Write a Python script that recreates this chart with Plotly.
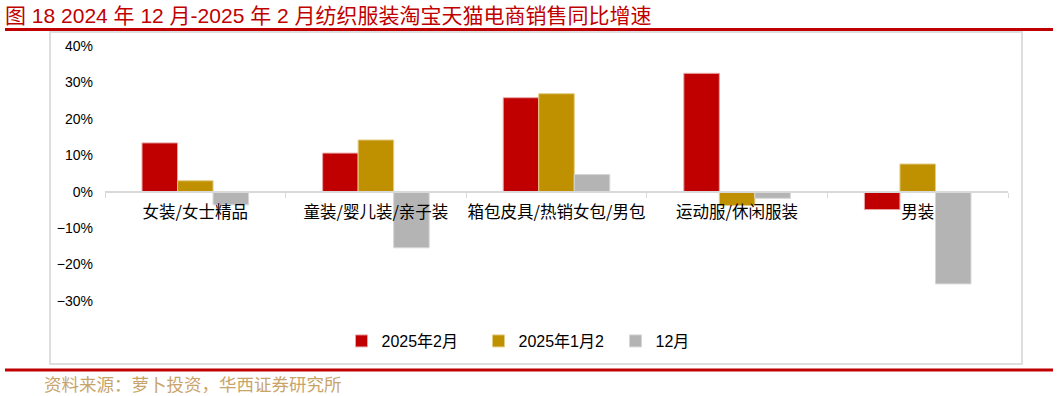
import plotly.graph_objects as go

categories = ["女装/女士精品", "童装/婴儿装/亲子装", "箱包皮具/热销女包/男包", "运动服/休闲服装", "男装"]
feb_2025 = [13.4, 10.6, 25.8, 32.5, -4.9]
jan_2025 = [3.0, 14.2, 26.9, -3.8, 7.6]
dec_2024 = [-3.6, -15.4, 4.7, -1.8, -25.3]
series_names = ["2025年2月", "2025年1月2", "12月"]
y_ticks = [-30, -20, -10, 0, 10, 20, 30, 40]
y_tick_text = [("\u2212" if v < 0 else "") + f"{abs(v)}%" for v in y_ticks]
y_range = [-30, 40]

W, H = 1059, 396
ML, MR, MT, MB = 105, 51, 46, 95
PW, PH = W - ML - MR, H - MT - MB


def px(x):
    return (x - ML) / PW


def py(y):
    return (H - MB - y) / PH


colors = ["#c00000", "#bf9000", "#b4b4b4"]
edge = ["#e9a5a5", "#e3cc85", "#d6d6d6"]
cjk = "Noto Sans CJK SC"
latin = "Liberation Sans, Arial, Noto Sans CJK SC"

fig = go.Figure()
for name, vals, c, e in zip(series_names, [feb_2025, jan_2025, dec_2024], colors, edge):
    fig.add_trace(go.Bar(x=categories, y=vals, name=name, marker=dict(color=c, line=dict(color=e, width=1))))

fig.update_layout(
    width=W, height=H,
    margin=dict(l=ML, r=MR, t=MT, b=MB),
    paper_bgcolor="white", plot_bgcolor="white",
    barmode="group", bargap=0.41, bargroupgap=0,
    showlegend=True,
    legend=dict(orientation="h", x=px(547), xanchor="center", y=py(341), yanchor="middle",
                font=dict(family=latin, size=16, color="#000"), entrywidth=92, itemwidth=30,
                traceorder="normal"),
    title=dict(text="图 18 2024 年 12 月-2025 年 2 月纺织服装淘宝天猫电商销售同比增速",
               xref="container", yref="container", x=5 / W, y=1 - 16 / H,
               xanchor="left", yanchor="middle",
               font=dict(family=latin, size=21, color="#c00000")),
    xaxis=dict(type="category", anchor="free", position=(0 - y_range[0]) / (y_range[1] - y_range[0]),
               showline=True, linecolor="#d9d9d9", linewidth=2,
               ticks="outside", tickson="boundaries", ticklen=5, tickcolor="#d9d9d9", tickwidth=1,
               ticklabelstandoff=5, tickangle=0, automargin=False,
               tickfont=dict(family=cjk, size=16.5, color="#000"), showgrid=False),
    yaxis=dict(range=y_range, tickmode="array", tickvals=y_ticks, ticktext=y_tick_text,
               showgrid=False, zeroline=False, automargin=False,
               showline=False, ticks="", ticklabelstandoff=11,
               tickfont=dict(family=latin, size=14, color="#000")),
    shapes=[
        dict(type="rect", xref="paper", yref="paper", x0=px(50), x1=px(1022), y0=py(364), y1=py(32),
             line=dict(color="#dedede", width=2), layer="below"),
        dict(type="line", xref="paper", yref="paper", x0=px(5), x1=px(1053), y0=py(29.5), y1=py(29.5),
             line=dict(color="#c00000", width=3)),
        dict(type="line", xref="paper", yref="paper", x0=px(5), x1=px(1053), y0=py(370), y1=py(370),
             line=dict(color="#c00000", width=3)),
    ],
    annotations=[
        dict(text="资料来源：萝卜投资，华西证券研究所", xref="paper", yref="paper", x=px(42), y=py(383),
             xanchor="left", yanchor="middle", showarrow=False,
             font=dict(family=cjk, size=17.5, color="#c9a46a")),
    ],
)

fig.write_html("out.html")
